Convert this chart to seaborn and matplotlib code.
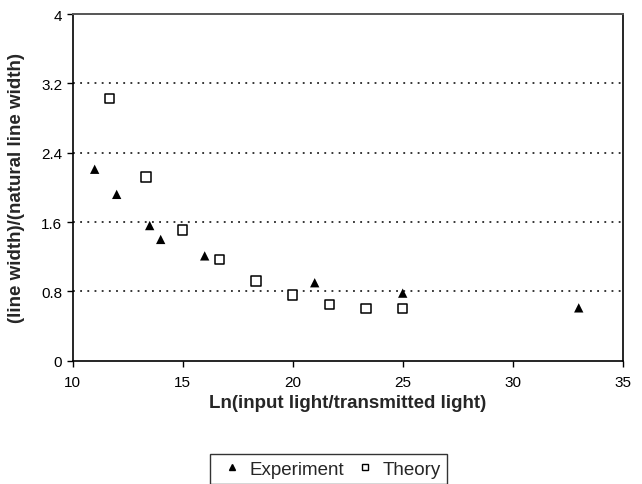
import matplotlib
matplotlib.use("Agg")
import matplotlib.pyplot as plt
import seaborn as sns
import pandas as pd

# data
exp_x = [11, 12, 13.5, 14, 16, 21, 25, 33]
exp_y = [2.21, 1.92, 1.56, 1.40, 1.21, 0.90, 0.78, 0.61]
theory_x = [11.67, 13.33, 15, 16.67, 18.33, 20, 21.67, 23.33, 25]
theory_y = [3.03, 2.12, 1.51, 1.17, 0.92, 0.76, 0.65, 0.60, 0.60]
y_ticks = [0, 0.8, 1.6, 2.4, 3.2, 4]
x_ticks = [10, 15, 20, 25, 30, 35]

df = pd.concat([
    pd.DataFrame({"x": exp_x, "y": exp_y, "series": "Experiment"}),
    pd.DataFrame({"x": theory_x, "y": theory_y, "series": "Theory"}),
])

sns.set_style("white")
plt.rcParams['font.family'] = ['Liberation Sans', 'DejaVu Sans']

fig = plt.figure(figsize=(6.42, 4.85), dpi=100)
ax = fig.add_axes([0.1132, 0.2542, 0.8568, 0.7145])

sns.scatterplot(data=df, x="x", y="y", style="series", hue="series",
                markers={"Experiment": "^", "Theory": "s"},
                palette={"Experiment": "black", "Theory": "black"},
                ax=ax, legend=False, s=45, zorder=3)
# theory squares are hollow
coll = ax.collections[0]
fc = [(0, 0, 0, 1) if s == "Experiment" else (1, 1, 1, 1) for s in df["series"]]
coll.set_facecolors(fc)
coll.set_edgecolors("black")
coll.set_linewidths([0 if s == "Experiment" else 1.1 for s in df["series"]])

ax.set_xlim(10, 35)
ax.set_ylim(0, 4)
ax.set_xticks(x_ticks)
ax.set_yticks(y_ticks)
ax.set_yticklabels([f"{t:g}" for t in y_ticks])
for t in y_ticks[1:-1]:
    ax.axhline(t, color="black", linestyle=(0, (1.2, 3.5)), linewidth=1.1, zorder=1)

ax.tick_params(axis="both", direction="out", length=4, width=1, labelsize=11,
               left=True, bottom=True, colors="black")
ax.tick_params(axis="x", pad=6)
for side in ["left", "bottom", "right"]:
    ax.spines[side].set_color("black")
    ax.spines[side].set_linewidth(1.2)
ax.spines["top"].set_color("#555555")
ax.spines["top"].set_linewidth(1.4)

ax.set_xlabel("Ln(input light/transmitted light)", fontsize=13.5, fontweight="bold")
ax.set_ylabel("(line width)/(natural line width)", fontsize=13.5, fontweight="bold")
ax.xaxis.set_label_coords(0.5, -0.095)
ax.yaxis.set_label_coords(-0.087, 0.5)

handles = [
    plt.Line2D([], [], marker="^", color="black", linestyle="none", markersize=5),
    plt.Line2D([], [], marker="s", markerfacecolor="white", markeredgecolor="black",
               linestyle="none", markersize=5),
]
leg = fig.legend(handles, ["Experiment", "Theory"], loc="upper left",
                 bbox_to_anchor=(210 / 642, 1 - 455 / 485), ncol=2, frameon=True,
                 fancybox=False, fontsize=13.5, handlelength=1.6, handletextpad=0.15,
                 columnspacing=0.3, borderpad=0.35, borderaxespad=0, edgecolor="black")
leg.get_frame().set_linewidth(1.0)

fig.savefig("out.png", dpi=100)
